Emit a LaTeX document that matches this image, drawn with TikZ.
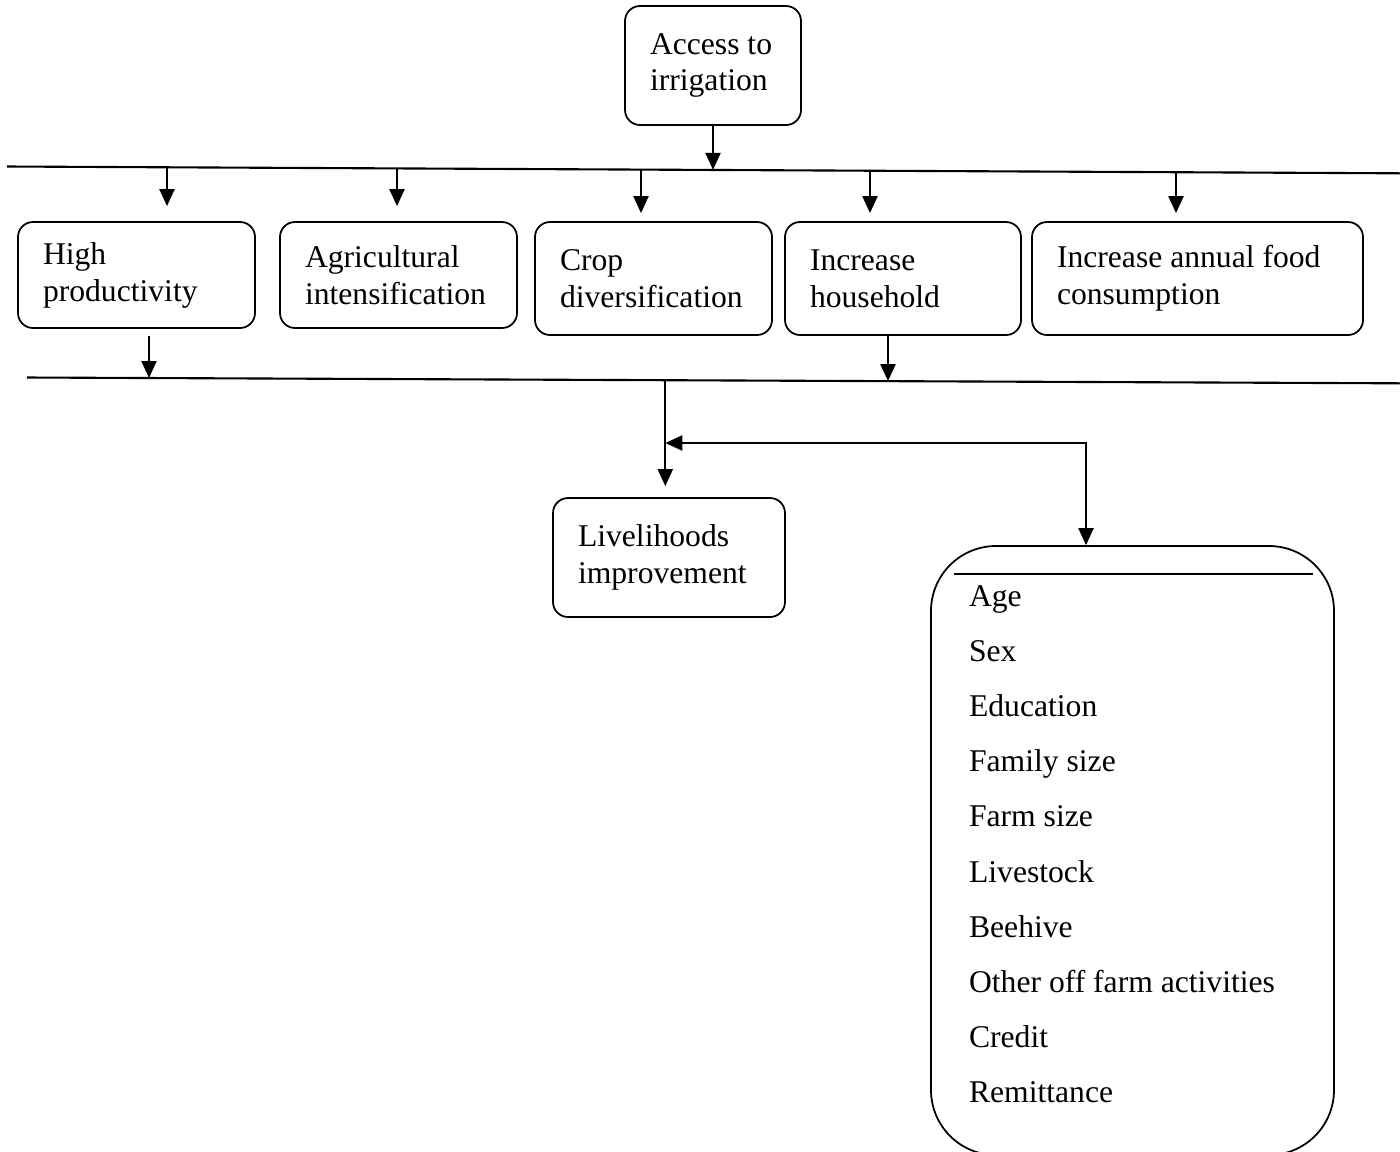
\documentclass[tikz,border=0pt]{standalone}
\usepackage{fontspec}
\setmainfont{Liberation Serif}
\usetikzlibrary{arrows.meta,positioning,calc}

\begin{document}
\begin{tikzpicture}[
    >={Triangle[length=0.17cm,width=0.15cm]},
    line width=0.6pt,
    stage/.style={rectangle, rounded corners=0.15cm, draw, line width=0.5pt, align=flush left,
        inner xsep=0.25cm, inner ysep=0pt, font=\fontsize{9}{10.5}\selectfont},
    arr/.style={->, line width=0.6pt},
    item/.style={anchor=base west, inner sep=0pt, font=\fontsize{9}{10.5}\selectfont}
]
    \useasboundingbox (0,0) rectangle (14,-11.51);

    % Top
    \node[stage, text width=1.26cm, minimum height=1.19cm] (access) at (7.13,-0.655) {Access to\\irrigation};

    % Rails
    \coordinate (l1a) at (0.07,-1.665);
    \coordinate (l1b) at (14.0,-1.733);
    \coordinate (l2a) at (0.27,-3.775);
    \coordinate (l2b) at (14.0,-3.833);
    \draw (l1a) -- (l1b);
    \draw (l2a) -- (l2b);

    % Outcomes
    \node[stage, text width=1.87cm, minimum height=1.06cm] (high) at (1.365,-2.75) {High\\productivity};
    \node[stage, text width=1.87cm, minimum height=1.06cm] (agri) at (3.985,-2.75) {Agricultural\\intensification};
    \node[stage, text width=1.87cm, minimum height=1.13cm] (crop) at (6.535,-2.785) {Crop\\diversification};
    \node[stage, text width=1.86cm, minimum height=1.13cm] (house) at (9.03,-2.785) {Increase\\household};
    \node[stage, text width=2.81cm, minimum height=1.13cm] (food) at (11.975,-2.785) {Increase annual food\\consumption};

    % Arrows from top rail
    \coordinate (d0) at (7.13,-1.699);
    \coordinate (d1) at (1.67,-1.673);
    \coordinate (d2) at (3.97,-1.684);
    \coordinate (d3) at (6.41,-1.696);
    \coordinate (d4) at (8.70,-1.707);
    \coordinate (d5) at (11.76,-1.722);
    \draw[arr] (access.south) -- (d0);
    \draw[arr, shorten >=0.15cm] (d1) -- (d1 |- high.north);
    \draw[arr, shorten >=0.15cm] (d2) -- (d2 |- agri.north);
    \draw[arr, shorten >=0.08cm] (d3) -- (d3 |- crop.north);
    \draw[arr, shorten >=0.08cm] (d4) -- (d4 |- house.north);
    \draw[arr, shorten >=0.08cm] (d5) -- (d5 |- food.north);

    % Arrows to bottom rail
    \coordinate (u1) at (1.49,-3.780);
    \coordinate (u2) at (8.88,-3.811);
    \draw[arr, shorten <=0.07cm] (u1 |- high.south) -- (u1);
    \draw[arr] (u2 |- house.south) -- (u2);

    % Result
    \node[stage, text width=1.82cm, minimum height=1.19cm] (live) at (6.69,-5.575) {Livelihoods\\improvement};
    \coordinate (m) at (6.653,-3.802);
    \draw[arr, shorten >=0.11cm] (m) -- (m |- live.north);

    % Factors
    \node[draw, rounded corners=0.65cm, line width=0.5pt, minimum width=4.03cm, minimum height=6.09cm] (factors) at (11.325,-8.505) {};
    \draw ($(factors.north west)+(0.24,-0.29)$) -- ($(factors.north east)+(-0.22,-0.29)$);
    \foreach \fac [count=\i from 0] in {Age,Sex,Education,Family size,Farm size,Livestock,Beehive,Other off farm activities,Credit,Remittance}
        \node[item] (f\i) at (9.68,{-6.06-0.552*\i}) {\fac};

    \coordinate (j) at (6.653,-4.43);
    \draw[<->] (j) -| ($(factors.north)+(-0.465,0)$);
\end{tikzpicture}
\end{document}
